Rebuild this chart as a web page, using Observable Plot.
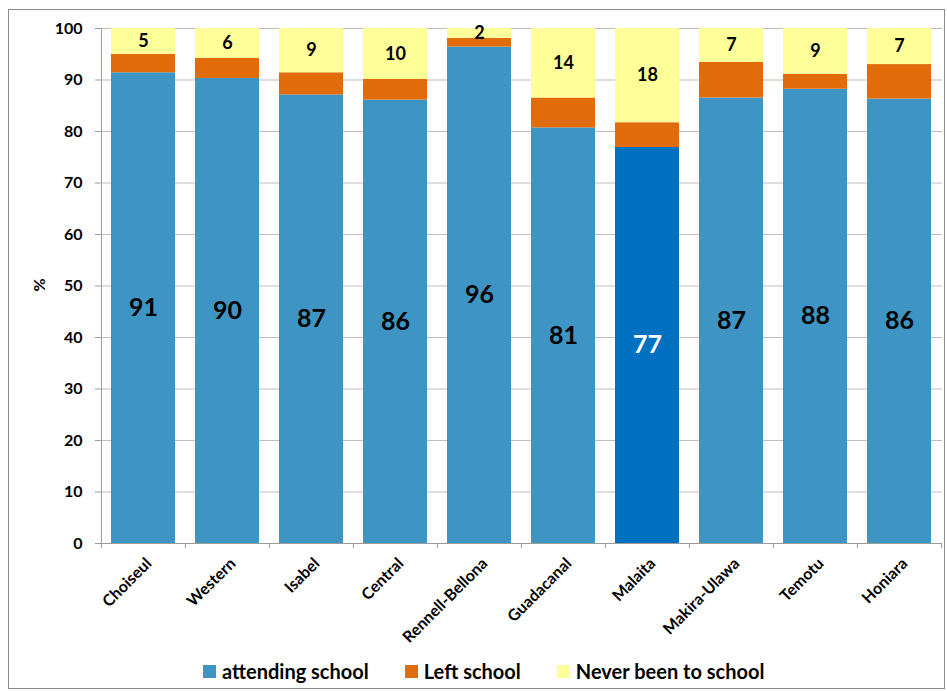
<!DOCTYPE html>
<html>
<head>
<meta charset="utf-8">
<script src="https://cdn.jsdelivr.net/npm/d3@7"></script>
<script src="https://cdn.jsdelivr.net/npm/@observablehq/plot@0.6"></script>
<style>
  body { margin: 0; background: #fff; font-family: Lato, "Liberation Sans", sans-serif; }
  #wrap { position: relative; width: 947px; height: 691px; }
  #border { position: absolute; left: 8px; top: 9px; width: 937px; height: 680px; border: 1px solid #8c8c8c; box-sizing: border-box; pointer-events: none; }
  #chart { position: absolute; left: 0; top: 0; }
  #ylabel { position: absolute; left: 38px; top: 285px; transform: translate(-50%, -50%) rotate(-90deg); font: bold 16px Lato, sans-serif; color: #000; }
  #legend { position: absolute; left: 203px; top: 659px; display: flex; align-items: center; font: bold 20px Lato, sans-serif; color: #000; white-space: nowrap; }
  #legend .item { display: flex; align-items: center; margin-right: 36px; }
  #legend .sw { width: 13px; height: 13px; margin-right: 6px; display: inline-block; }
</style>
</head>
<body>
<div id="wrap">
  <div id="chart"></div>
  <div id="ylabel">%</div>
  <div id="legend"></div>
  <div id="border"></div>
</div>
<script>
const regions = ["Choiseul","Western","Isabel","Central","Rennell-Bellona","Guadacanal","Malaita","Makira-Ulawa","Temotu","Honiara"];
const attending = [91.4, 90.3, 87.1, 86.1, 96.4, 80.7, 76.9, 86.5, 88.2, 86.3];
const leftSchool = [3.6, 3.9, 4.3, 4.0, 1.7, 5.8, 4.8, 6.9, 2.9, 6.7];
const never = [5.0, 5.8, 8.6, 9.9, 1.9, 13.5, 18.3, 6.6, 8.9, 7.0];
const yTicks = [0,10,20,30,40,50,60,70,80,90,100];
const seriesNames = ["attending school", "Left school", "Never been to school"];
const colors = ["#3E95C3", "#E36C0A", "#FFFF99"];
const highlightRegion = "Malaita";
const highlightColor = "#0070C0";

const rows = regions.map((r, i) => ({
  region: r,
  a0: 0, a1: attending[i],
  l0: attending[i], l1: attending[i] + leftSchool[i],
  n0: attending[i] + leftSchool[i], n1: attending[i] + leftSchool[i] + never[i],
  attending: attending[i], never: never[i]
}));

const W = 947, H = 640, mL = 100, mR = 5, mT = 28, mB = 97;
const step = (W - mL - mR) / regions.length;
const font = "Lato, 'Liberation Sans', sans-serif";

const plot = Plot.plot({
  width: W, height: H,
  marginLeft: mL, marginRight: mR, marginTop: mT, marginBottom: mB,
  style: { fontFamily: font, background: "transparent", overflow: "visible" },
  x: { domain: regions, paddingInner: 0.234, paddingOuter: 0.117, axis: null },
  y: { domain: [0, 100], axis: null },
  marks: [
    Plot.gridY(yTicks, { stroke: "#bdbdbd", strokeOpacity: 1 }),
    Plot.barY(rows.filter(d => d.region !== highlightRegion), { x: "region", y1: "a0", y2: "a1", fill: colors[0] }),
    Plot.barY(rows.filter(d => d.region === highlightRegion), { x: "region", y1: "a0", y2: "a1", fill: highlightColor }),
    Plot.barY(rows, { x: "region", y1: "l0", y2: "l1", fill: colors[1] }),
    Plot.barY(rows, { x: "region", y1: "n0", y2: "n1", fill: colors[2] }),
    Plot.ruleY([0], { stroke: "#9a9a9a" }),
    Plot.ruleX([regions[0]], { x: d => d, y1: 0, y2: 100, dx: -step / 2, stroke: "#9a9a9a" }),
    Plot.ruleX(regions, { x: d => d, y1: 0, y2: 0, insetBottom: -5, dx: -step / 2, stroke: "#9a9a9a" }),
    Plot.ruleX([regions[regions.length - 1]], { x: d => d, y1: 0, y2: 0, insetBottom: -5, dx: step / 2, stroke: "#9a9a9a" }),
    Plot.axisY(yTicks, { tickSize: 5, tickPadding: 13, stroke: "#9a9a9a", fill: "#000", fontSize: 16, fontWeight: "bold", label: null, tickFormat: d => d }),
    Plot.text(rows, { x: "region", y: d => d.attending / 2, text: d => Math.round(d.attending), fill: d => d.region === highlightRegion ? "#ffffff" : "#000000", fontSize: 25, fontWeight: "bold" }),
    Plot.text(rows, { x: "region", y: d => (d.n0 + d.n1) / 2, text: d => Math.round(d.never), fill: "#000", fontSize: 18, fontWeight: "bold" }),
    Plot.text(regions, { x: d => d, y: 0, text: d => d, rotate: -45, textAnchor: "end", lineAnchor: "top", dx: 1, dy: 13, fill: "#000", fontSize: 16, fontWeight: "bold" })
  ]
});
document.getElementById("chart").appendChild(plot);

const legend = document.getElementById("legend");
seriesNames.forEach((name, i) => {
  const item = document.createElement("div");
  item.className = "item";
  const sw = document.createElement("span");
  sw.className = "sw";
  sw.style.background = colors[i];
  const label = document.createElement("span");
  label.textContent = name;
  item.appendChild(sw);
  item.appendChild(label);
  legend.appendChild(item);
});
</script>
</body>
</html>
